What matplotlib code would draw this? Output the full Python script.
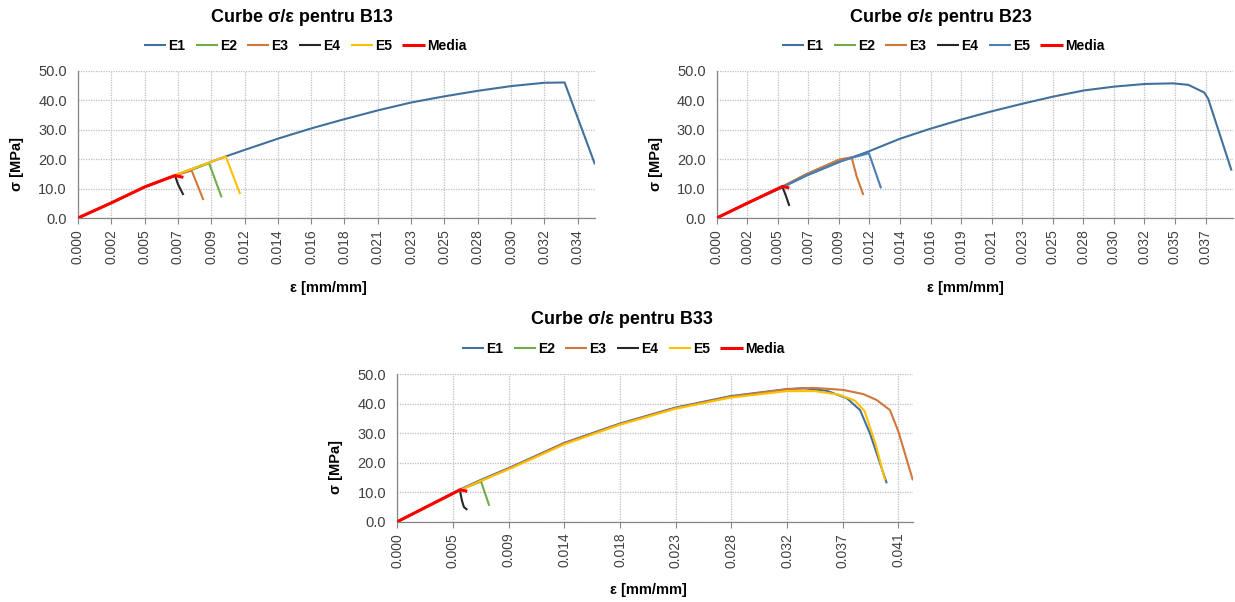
import matplotlib
matplotlib.use("Agg")
import matplotlib.pyplot as plt
import numpy as np

plt.rcParams['font.family'] = ['Liberation Sans', 'DejaVu Sans']

#%% data (strain [mm/mm], stress [MPa])
series_names = ['E1', 'E2', 'E3', 'E4', 'E5', 'Media']

# B13
b13_e1_x = [0, 0.00233, 0.00463, 0.0067, 0.0102, 0.0115, 0.01385, 0.01617, 0.01836, 0.02076, 0.0230,
            0.0253, 0.02765, 0.02995, 0.0322, 0.0336, 0.0357]
b13_e1_y = [0, 5.2, 10.6, 14.5, 20.9, 23.1, 27.0, 30.5, 33.5, 36.6, 39.2, 41.3, 43.2, 44.8, 45.9, 46.0, 18.2]
b13_e2_x = [0, 0.00233, 0.00463, 0.0067, 0.0080, 0.00905, 0.00992]
b13_e2_y = [0, 5.2, 10.6, 14.5, 16.6, 18.6, 7.0]
b13_e3_x = [0, 0.00233, 0.00463, 0.0067, 0.00785, 0.00866]
b13_e3_y = [0, 5.2, 10.6, 14.5, 16.1, 6.1]
b13_e4_x = [0, 0.00233, 0.00463, 0.0067, 0.0069, 0.00728]
b13_e4_y = [0, 5.2, 10.6, 14.4, 11.5, 7.8]
b13_e5_x = [0, 0.00233, 0.00463, 0.0067, 0.0085, 0.0102, 0.0112]
b13_e5_y = [0, 5.2, 10.6, 14.6, 17.8, 20.9, 8.1]
b13_med_x = [0, 0.00233, 0.00463, 0.0067, 0.00728]
b13_med_y = [0, 5.2, 10.6, 14.4, 13.8]
b13_ticks = ['0.000', '0.002', '0.005', '0.007', '0.009', '0.012', '0.014', '0.016', '0.018', '0.021',
             '0.023', '0.025', '0.028', '0.030', '0.032', '0.034']

# B23
b23_e1_x = [0, 0.0023, 0.00497, 0.0068, 0.00933, 0.0115, 0.01387, 0.01617, 0.0185, 0.0208, 0.02315,
            0.02546, 0.0278, 0.0301, 0.03244, 0.03454, 0.0357, 0.0369, 0.0372, 0.03897]
b23_e1_y = [0, 5.0, 10.4, 14.4, 19.1, 22.6, 26.9, 30.3, 33.4, 36.2, 38.8, 41.2, 43.3, 44.6, 45.5, 45.7,
            45.2, 42.6, 40.5, 16.1]
b23_e2_x = [0, 0.0023, 0.00497, 0.0068, 0.0093]
b23_e2_y = [0, 5.0, 10.6, 14.9, 19.8]
b23_e3_x = [0, 0.0023, 0.00497, 0.0068, 0.00933, 0.01021, 0.0106, 0.0111]
b23_e3_y = [0, 5.0, 10.7, 14.9, 19.9, 20.6, 14.0, 7.8]
b23_e4_x = [0, 0.0023, 0.00497, 0.0052, 0.0055]
b23_e4_y = [0, 5.0, 10.6, 8.0, 4.1]
b23_e5_x = [0, 0.0023, 0.00497, 0.0068, 0.00933, 0.0102, 0.01152, 0.01244]
b23_e5_y = [0, 5.0, 10.5, 14.5, 19.2, 20.4, 22.0, 10.1]
b23_med_x = [0, 0.0023, 0.00497, 0.0055]
b23_med_y = [0, 5.0, 10.7, 10.2]
b23_ticks = ['0.000', '0.002', '0.005', '0.007', '0.009', '0.012', '0.014', '0.016', '0.019', '0.021',
             '0.023', '0.025', '0.028', '0.030', '0.032', '0.035', '0.037']

# B33
b33_e1_x = [0, 0.0025, 0.00518, 0.00692, 0.00924, 0.01381, 0.01837, 0.02295, 0.02752, 0.0322, 0.03355,
            0.0355, 0.03714, 0.03823, 0.03905, 0.04044]
b33_e1_y = [0, 5.3, 10.9, 14.2, 18.2, 26.7, 33.2, 38.6, 42.5, 44.9, 45.2, 44.3, 41.8, 37.8, 29.9, 13.0]
b33_e2_x = [0, 0.0025, 0.00518, 0.00692, 0.0076]
b33_e2_y = [0, 5.2, 10.8, 13.6, 5.4]
b33_e3_x = [0, 0.0025, 0.00518, 0.00924, 0.01381, 0.01837, 0.02295, 0.02752, 0.0322, 0.0343, 0.0355,
            0.03686, 0.0385, 0.0396, 0.0407, 0.0414, 0.0426]
b33_e3_y = [0, 5.2, 10.7, 18.0, 26.5, 33.0, 38.4, 42.3, 44.8, 45.3, 45.0, 44.6, 43.2, 41.2, 37.8, 30.5, 14.0]
b33_e4_x = [0, 0.0025, 0.00518, 0.00525, 0.00535, 0.0055, 0.00578]
b33_e4_y = [0, 5.2, 10.7, 9.0, 7.0, 5.0, 4.0]
b33_e5_x = [0, 0.0025, 0.00518, 0.00692, 0.00924, 0.01381, 0.01837, 0.02295, 0.02752, 0.0322, 0.0345,
            0.0365, 0.0378, 0.0386, 0.0395, 0.0403]
b33_e5_y = [0, 5.1, 10.6, 13.9, 17.8, 26.2, 32.8, 38.2, 42.0, 44.2, 44.2, 43.0, 41.0, 37.5, 26.5, 14.0]
b33_med_x = [0, 0.0025, 0.00518, 0.00578]
b33_med_y = [0, 5.2, 10.8, 10.3]
b33_ticks = ['0.000', '0.005', '0.009', '0.014', '0.018', '0.023', '0.028', '0.032', '0.037', '0.041']

#%% plotting
W, H = 1235, 602
fig = plt.figure(figsize=(W / 100, H / 100), dpi=100)

def px(x0, y0, x1, y1):
    # pixel box (top-left origin) -> figure fraction rect
    return [x0 / W, 1 - y1 / H, (x1 - x0) / W, (y1 - y0) / H]

blue = '#41719C'
colors_std = [blue, '#70AD47', '#D2773A', '#262626', '#FFC000', '#FF0000']
colors_b23 = [blue, '#70AD47', '#D2773A', '#262626', '#4A7EB5', '#FF0000']

panels = [
    dict(name='B13', rect=px(78, 70.7, 595, 218), step=0.0023, xmax=0.0357, ticks=b13_ticks,
         data=[(b13_e1_x, b13_e1_y), (b13_e2_x, b13_e2_y), (b13_e3_x, b13_e3_y),
               (b13_e4_x, b13_e4_y), (b13_e5_x, b13_e5_y), (b13_med_x, b13_med_y)],
         colors=colors_std, title=(302, 17), leg=(305, 46), ylab=(17, 164), xlab=(328, 288)),
    dict(name='B23', rect=px(716.7, 70.7, 1233, 218), step=0.0023125, xmax=0.03908, ticks=b23_ticks,
         data=[(b23_e1_x, b23_e1_y), (b23_e2_x, b23_e2_y), (b23_e3_x, b23_e3_y),
               (b23_e4_x, b23_e4_y), (b23_e5_x, b23_e5_y), (b23_med_x, b23_med_y)],
         colors=colors_b23, title=(941, 17), leg=(943, 46), ylab=(656, 164), xlab=(965, 288)),
    dict(name='B33', rect=px(397.3, 374, 913.4, 521.7), step=0.0046, xmax=0.04264, ticks=b33_ticks,
         data=[(b33_e1_x, b33_e1_y), (b33_e2_x, b33_e2_y), (b33_e3_x, b33_e3_y),
               (b33_e4_x, b33_e4_y), (b33_e5_x, b33_e5_y), (b33_med_x, b33_med_y)],
         colors=colors_std, title=(622, 320), leg=(623, 349), ylab=(336, 467), xlab=(648, 590)),
]

for p in panels:
    ax = fig.add_axes(p['rect'])
    handles = []
    for (xs, ys), c, nm in zip(p['data'], p['colors'], series_names):
        lw = 2.2 if nm == 'Media' else 1.5
        h, = ax.plot(xs, ys, color=c, lw=lw, label=nm, solid_capstyle='butt', zorder=3)
        handles.append(h)

    ax.set_xlim(0, p['xmax'])
    ax.set_ylim(0, 50)
    ax.set_xticks(np.arange(len(p['ticks'])) * p['step'])
    ax.set_xticklabels(p['ticks'], rotation=90, fontsize=10, color='#404040')
    ax.set_yticks(np.arange(0, 51, 10))
    ax.set_yticklabels([f'{v:.1f}' for v in np.arange(0, 51, 10)], fontsize=10.5, color='#404040')
    ax.tick_params(axis='x', length=4, width=0.8, color='#868686', pad=4)
    ax.tick_params(axis='y', length=0, pad=8)

    ax.grid(True, color='#BFBFBF', linestyle=(0, (1, 1)), lw=0.9)
    ax.set_axisbelow(True)
    for s in ['top', 'right']:
        ax.spines[s].set_visible(False)
    for s in ['left', 'bottom']:
        ax.spines[s].set_color('#868686')
        ax.spines[s].set_linewidth(0.9)

    fig.text(p['title'][0] / W, 1 - p['title'][1] / H, f'Curbe σ/ε pentru {p["name"]}',
             ha='center', va='center', fontsize=13, fontweight='bold')
    fig.text(p['ylab'][0] / W, 1 - p['ylab'][1] / H, 'σ [MPa]', rotation=90,
             ha='center', va='center', fontsize=10.5, fontweight='bold')
    fig.text(p['xlab'][0] / W, 1 - p['xlab'][1] / H, 'ε [mm/mm]',
             ha='center', va='center', fontsize=10.5, fontweight='bold')
    ax.legend(handles=handles, loc='center', ncol=6, frameon=False,
              bbox_to_anchor=(p['leg'][0] / W, 1 - p['leg'][1] / H), bbox_transform=fig.transFigure,
              prop=dict(size=10, weight='bold'), handlelength=1.6, handletextpad=0.15,
              columnspacing=0.75, borderaxespad=0)

fig.savefig('out.png', dpi=100)
